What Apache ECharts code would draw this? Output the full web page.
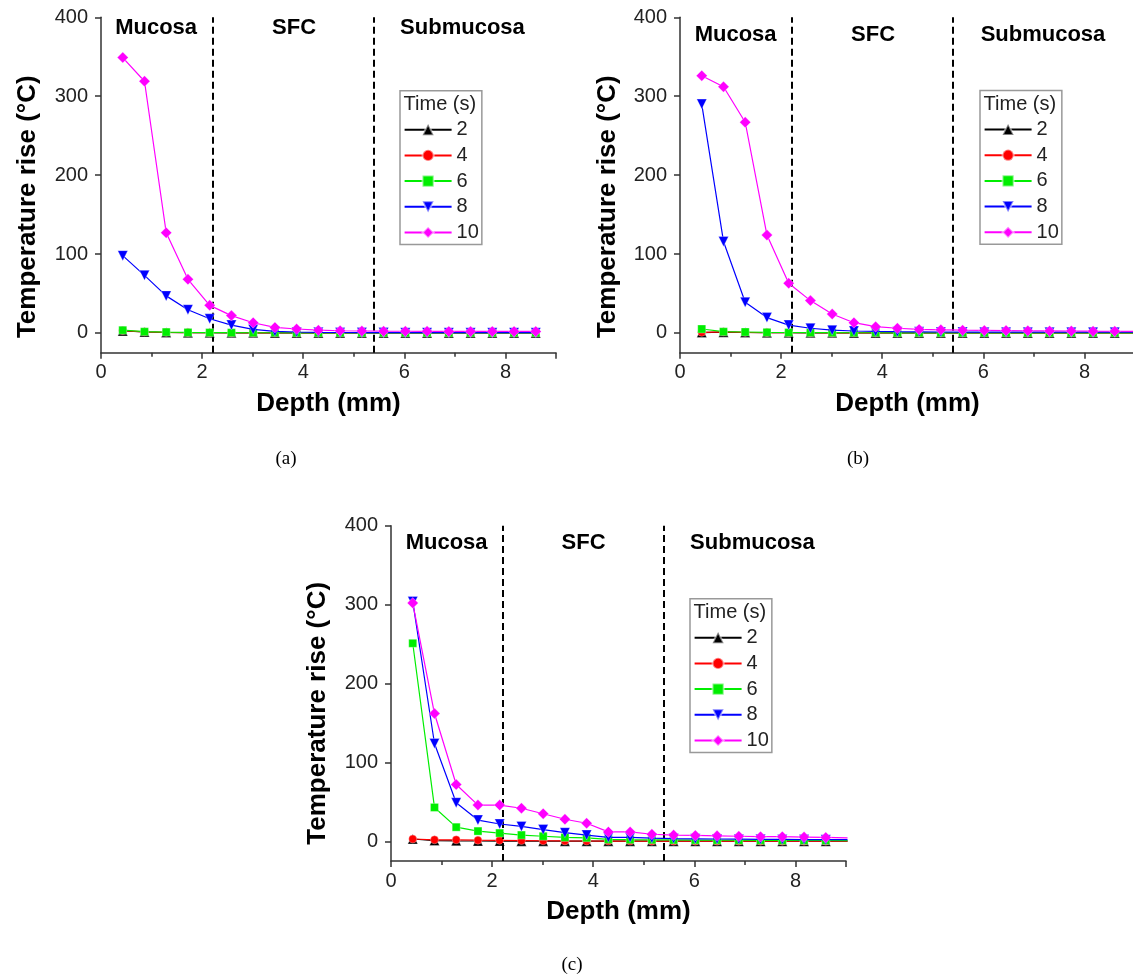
<!DOCTYPE html>
<html>
<head>
<meta charset="utf-8">
<script src="https://cdn.jsdelivr.net/npm/echarts@6/dist/echarts.min.js"></script>
<style>
  html, body { margin: 0; padding: 0; background: #fff; }
  #chart { width: 1133px; height: 978px; }
</style>
</head>
<body>
<div id="chart"></div>
<script>
// depth positions (mm)
const depth = [0.43, 0.86, 1.29, 1.72, 2.15, 2.58, 3.01, 3.44, 3.87, 4.30, 4.73,
  5.16, 5.59, 6.02, 6.45, 6.88, 7.31, 7.74, 8.17, 8.60, 9.03];

const times = ['2', '4', '6', '8', '10'];
const layers = ['Mucosa', 'SFC', 'Submucosa'];
const layerBounds = [2.22, 5.4];
const xTicks = [0, 2, 4, 6, 8];
const yTicks = [0, 100, 200, 300, 400];

// (a)
const a2 = [2.5, 1.2, 0.6, 0.4, 0.3, 0.2, 0.2, 0.1, 0.1, 0.1, 0.1, 0.1, 0.1, 0.1, 0.1, 0.1, 0.1, 0.1, 0.1, 0.1];
const a4 = [3, 1.5, 0.8, 0.5, 0.3, 0.3, 0.2, 0.2, 0.2, 0.1, 0.1, 0.1, 0.1, 0.1, 0.1, 0.1, 0.1, 0.1, 0.1, 0.1];
const a6 = [3.5, 1.6, 1.1, 0.7, 0.5, 0.4, 0.3, 0.3, 0.2, 0.2, 0.2, 0.2, 0.2, 0.2, 0.2, 0.2, 0.2, 0.2, 0.2, 0.2];
const a8 = [98, 73, 47, 29.5, 18, 10, 4.5, 2, 1.2, 0.8, 0.6, 0.5, 0.5, 0.4, 0.4, 0.4, 0.4, 0.4, 0.4, 0.4];
const a10 = [349, 319, 127, 68, 35, 22, 13, 7, 5, 3.5, 2.8, 2.5, 2.3, 2.2, 2.1, 2, 2, 2, 2, 2];

// (b)
const b2 = [0.5, 1, 0.6, 0.4, 0.3, 0.2, 0.2, 0.1, 0.1, 0.1, 0.1, 0.1, 0.1, 0.1, 0.1, 0.1, 0.1, 0.1, 0.1, 0.1, 0.1];
const b4 = [0.8, 1.5, 0.8, 0.5, 0.4, 0.3, 0.2, 0.2, 0.2, 0.1, 0.1, 0.1, 0.1, 0.1, 0.1, 0.1, 0.1, 0.1, 0.1, 0.1, 0.1];
const b6 = [5, 1.6, 1.2, 0.8, 0.6, 0.5, 0.4, 0.3, 0.3, 0.2, 0.2, 0.2, 0.2, 0.2, 0.2, 0.2, 0.2, 0.2, 0.2, 0.2, 0.2];
const b8 = [290, 116, 39, 19.5, 10, 6, 3.5, 2.5, 2, 1.6, 1.4, 1.2, 1.1, 1, 1, 1, 1, 1, 1, 1, 1];
const b10 = [326, 312, 267, 124, 63, 41, 24, 13, 8, 6, 4.5, 4, 3.5, 3.2, 3, 2.8, 2.6, 2.5, 2.3, 2.2, 2.1];

// (c)
const c2 = [3, 1, 0.7, 0.5, 0.4, 0.3, 0.3, 0.2, 0.2, 0.2, 0.2, 0.2, 0.2, 0.2, 0.2, 0.2, 0.2, 0.2, 0.2, 0.2, 0.2];
const c4 = [3, 2, 2, 1.5, 1.3, 1, 0.8, 0.6, 0.5, 0.4, 0.4, 0.3, 0.3, 0.3, 0.3, 0.3, 0.3, 0.3, 0.3, 0.3, 0.3];
const c6 = [251, 43, 18, 13, 10.5, 8, 6.5, 5, 4.5, 2.5, 2.2, 2, 1.8, 1.6, 1.5, 1.4, 1.3, 1.2, 1.2, 1.1, 1];
const c8 = [304, 124, 49, 27, 22, 19, 15, 11, 8, 5, 5, 4, 3.5, 3.2, 3, 2.8, 2.6, 2.5, 2.3, 2.2, 2.1];
const c10 = [302, 162, 72, 46, 46, 42, 35, 28, 23, 12, 12, 9, 8, 7.5, 7, 6.5, 6, 6, 5.5, 5, 4.5];

const panels = [
  { data: [a2, a4, a6, a8, a10], layerX: [1.09, 3.82, 7.15], layerY: 386, caption: '(a)' },
  { data: [b2, b4, b6, b8, b10], layerX: [1.1, 3.82, 7.18], layerY: 378, caption: '(b)' },
  { data: [c2, c4, c6, c8, c10], layerX: [1.1, 3.81, 7.15], layerY: 378, caption: '(c)' }
];

const colors = ['#000000', '#ff0000', '#00ee00', '#0000ff', '#ff00ff'];
const symbols = ['triangle', 'circle', 'rect', 'path://M0,0 L10,0 L5,10 Z', 'diamond'];
const symbolSizes = [10, 8, 8, 10, 11];

const chart = echarts.init(document.getElementById('chart'));

const grids = [
  { left: 101, top: 17.3, width: 455, height: 335.4, outerBoundsMode: 'none' },
  { left: 680, top: 17.3, width: 455, height: 335.4, outerBoundsMode: 'none' },
  { left: 391, top: 525.7, width: 455, height: 335.4, outerBoundsMode: 'none' }
];
const legendPos = [
  { left: 400, top: 90.7 },
  { left: 980, top: 90.5 },
  { left: 690, top: 598.7 }
];
const yTitlePos = [[27.7, 206.7], [607.7, 206.7], [318, 713.3]];
const captionPos = [[286, 459], [858, 459], [572, 965]];

const axisColor = '#333';
const font = 'Liberation Sans, Arial, sans-serif';

const xAxes = grids.map((g, i) => ({
  type: 'value', gridIndex: i, min: 0, max: 9, interval: 2,
  name: 'Depth (mm)', nameLocation: 'middle', nameGap: 38,
  nameTextStyle: { fontFamily: font, fontSize: 26, fontWeight: 'bold', color: '#000' },
  axisLine: { onZero: false, lineStyle: { color: axisColor, width: 1.5 } },
  axisTick: { length: 6, lineStyle: { color: axisColor, width: 1.5 } },
  minorTick: { show: true, splitNumber: 2, length: 4, lineStyle: { color: axisColor, width: 1.5 } },
  axisLabel: { fontFamily: font, fontSize: 20, color: '#222', margin: 10, customValues: xTicks },
  splitLine: { show: false }
}));

const yAxes = grids.map((g, i) => ({
  type: 'value', gridIndex: i, min: -25, max: 400,
  axisLine: { show: true, onZero: false, lineStyle: { color: axisColor, width: 1.5 } },
  axisTick: { show: true, length: 6, customValues: yTicks, lineStyle: { color: axisColor, width: 1.5 } },
  axisLabel: { fontFamily: font, fontSize: 20, color: '#222', margin: 13, customValues: yTicks },
  splitLine: { show: false }
}));

const series = [];
panels.forEach((p, pi) => {
  p.data.forEach((vals, ti) => {
    series.push({
      type: 'line', name: times[ti], xAxisIndex: pi, yAxisIndex: pi,
      data: vals.map((v, k) => [depth[k], v]),
      symbol: symbols[ti], symbolSize: symbolSizes[ti],
      lineStyle: { color: colors[ti], width: 1.2 },
      itemStyle: { color: colors[ti], borderColor: 'rgba(255,255,255,0.5)', borderWidth: 0.6 },
      clip: true, z: 3 + ti,
      markLine: ti === 0 ? {
        silent: true, symbol: 'none', label: { show: false },
        lineStyle: { color: '#000', type: [7, 4], width: 2 },
        data: layerBounds.map(b => ({ xAxis: b }))
      } : undefined
    });
  });
  series.push({
    type: 'scatter', xAxisIndex: pi, yAxisIndex: pi, silent: true, symbolSize: 0,
    itemStyle: { color: 'transparent', opacity: 1 },
    data: layers.map((n, k) => ({ value: [p.layerX[k], p.layerY], name: n })),
    label: {
      show: true, position: 'inside', formatter: '{b}',
      fontFamily: font, fontSize: 22, fontWeight: 'bold', color: '#000',
      textBorderWidth: 0, textBorderColor: 'transparent'
    }
  });
});

const legends = legendPos.map(pos => ({
  left: pos.left, top: pos.top, orient: 'vertical',
  data: times,
  itemWidth: 47, itemHeight: 14, itemGap: 5.7,
  padding: [29, 3, 2, 3.6],
  borderColor: '#999', borderWidth: 1.5,
  textStyle: { fontFamily: font, fontSize: 20, color: '#222', lineHeight: 20 },
  selectedMode: false
}));

const graphics = [];
legendPos.forEach(pos => {
  graphics.push({
    type: 'text', left: pos.left + 3.6, top: pos.top + 4,
    style: { text: 'Time (s)', font: '20px ' + font, fill: '#222' }
  });
});
yTitlePos.forEach(([x, y]) => {
  graphics.push({
    type: 'text', x: x, y: y, rotation: Math.PI / 2,
    style: {
      text: 'Temperature rise (\u00B0C)', font: 'bold 26px ' + font, fill: '#000',
      textAlign: 'center', textVerticalAlign: 'middle'
    }
  });
});
panels.forEach((p, i) => {
  graphics.push({
    type: 'text', x: captionPos[i][0], y: captionPos[i][1],
    style: {
      text: p.caption, font: '19px Liberation Serif, DejaVu Serif, serif', fill: '#000',
      textAlign: 'center', textVerticalAlign: 'middle'
    }
  });
});

chart.setOption({
  backgroundColor: '#fff',
  animation: false,
  grid: grids,
  xAxis: xAxes,
  yAxis: yAxes,
  legend: legends,
  graphic: graphics,
  series: series
});
</script>
</body>
</html>
